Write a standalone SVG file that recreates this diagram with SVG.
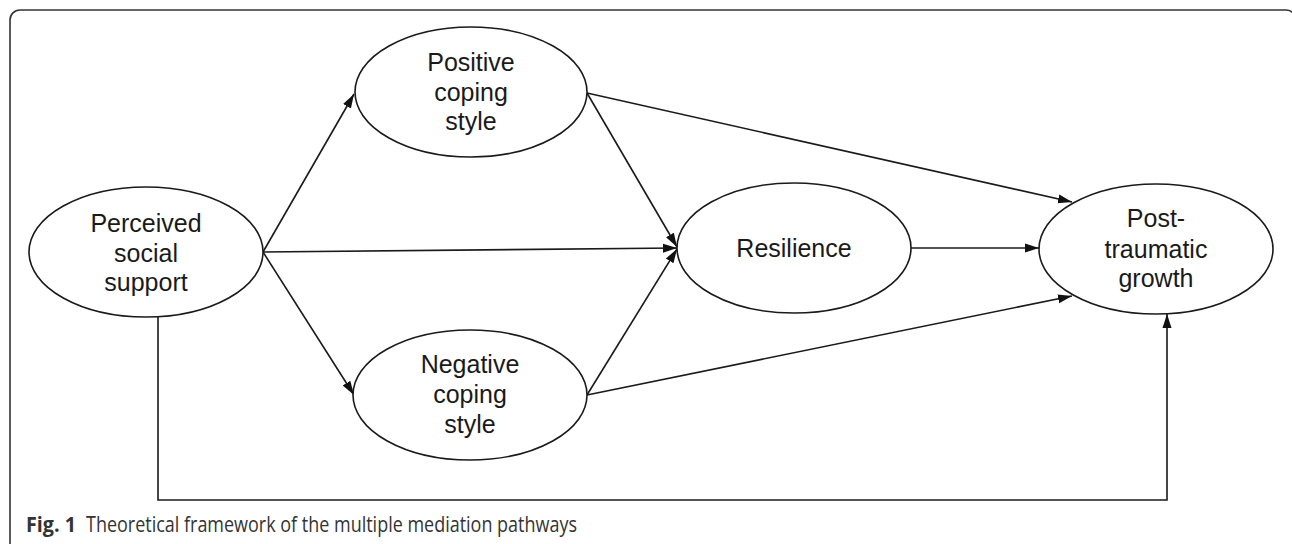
<svg xmlns="http://www.w3.org/2000/svg" width="1292" height="544" viewBox="0 0 1292 544">
<style>
.node ellipse{fill:#fff;stroke:#1a1a1a;stroke-width:1.6}
.node text{font-family:"Liberation Sans",Arial,sans-serif;font-size:25px;fill:#1a1a1a;text-anchor:middle}
.conn line,.conn path{stroke:#1a1a1a;stroke-width:1.6;fill:none}
.cap{font-family:"Open Sans","Liberation Sans",sans-serif;font-size:21px;fill:#333}
</style>
<defs>
<marker id="arr" markerUnits="userSpaceOnUse" markerWidth="15" markerHeight="11" viewBox="0 0 15 11" refX="14" refY="5.5" orient="auto">
<path d="M0,1 L14,5.5 L0,10 Z" fill="#111"/>
</marker>
</defs>
<rect x="10" y="10" width="1286" height="560" rx="10" ry="10" fill="none" stroke="#333" stroke-width="1.6"/>
<g class="conn">
<line x1="263" y1="252" x2="354" y2="94" marker-end="url(#arr)"/>
<line x1="263" y1="252" x2="677" y2="248" marker-end="url(#arr)"/>
<line x1="263" y1="252" x2="354" y2="395" marker-end="url(#arr)"/>
<line x1="587" y1="93" x2="677" y2="247" marker-end="url(#arr)"/>
<line x1="587" y1="395" x2="677" y2="249" marker-end="url(#arr)"/>
<line x1="587" y1="93" x2="1072" y2="202" marker-end="url(#arr)"/>
<line x1="587" y1="395" x2="1072" y2="296" marker-end="url(#arr)"/>
<line x1="911" y1="248" x2="1039" y2="248" marker-end="url(#arr)"/>
<path d="M158,317 V500 H1167 V314" marker-end="url(#arr)"/>
</g>
<g id="pss" class="node">
<ellipse cx="146" cy="252" rx="117" ry="65"/>
<text x="146" y="232">Perceived</text>
<text x="146" y="262">social</text>
<text x="146" y="291">support</text>
</g>
<g id="positive" class="node">
<ellipse cx="471" cy="92" rx="116" ry="65"/>
<text x="471" y="71">Positive</text>
<text x="471" y="101">coping</text>
<text x="471" y="130">style</text>
</g>
<g id="negative" class="node">
<ellipse cx="470" cy="395" rx="117" ry="65"/>
<text x="470" y="373">Negative</text>
<text x="470" y="403">coping</text>
<text x="470" y="433">style</text>
</g>
<g id="resilience" class="node">
<ellipse cx="794" cy="248" rx="117" ry="65"/>
<text x="794" y="257">Resilience</text>
</g>
<g id="ptg" class="node">
<ellipse cx="1156" cy="249" rx="117" ry="65"/>
<text x="1156" y="227">Post-</text>
<text x="1156" y="258">traumatic</text>
<text x="1156" y="287">growth</text>
</g>
<text class="cap" x="26" y="532" font-weight="bold" fill="#222" textLength="50" lengthAdjust="spacingAndGlyphs">Fig. 1</text>
<text class="cap" x="86" y="532" textLength="491" lengthAdjust="spacingAndGlyphs">Theoretical framework of the multiple mediation pathways</text>
</svg>
